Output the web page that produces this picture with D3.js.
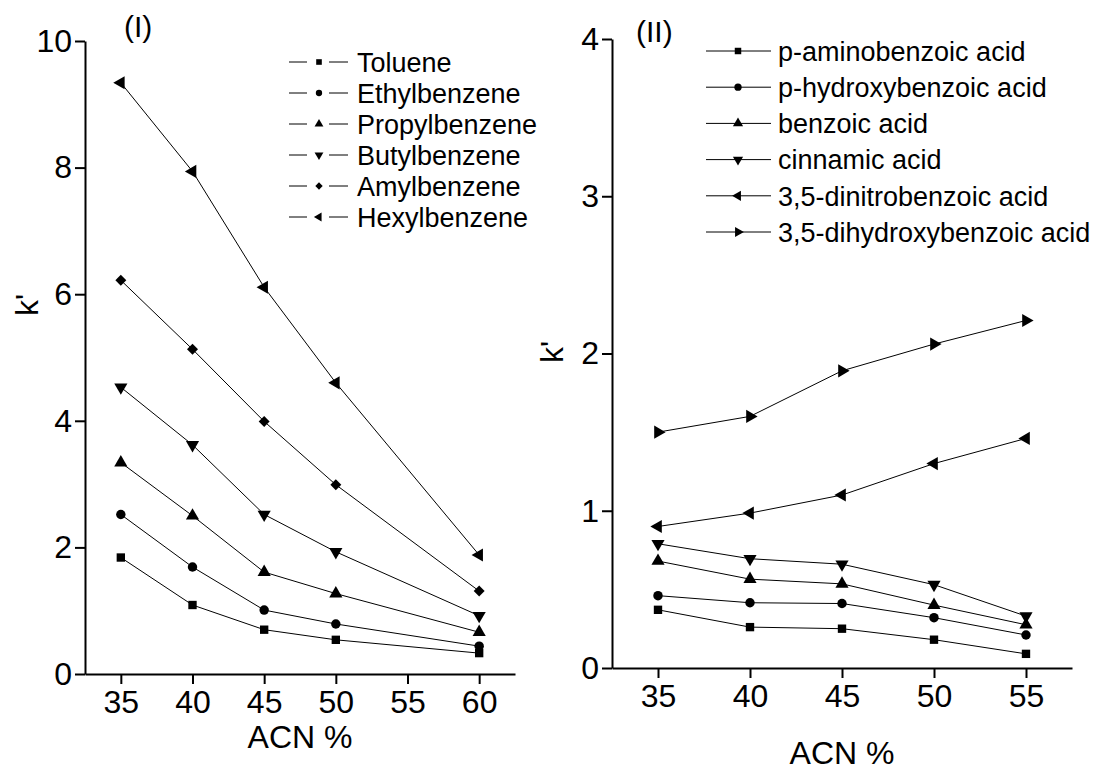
<!DOCTYPE html>
<html>
<head>
<meta charset="utf-8">
<script src="https://cdn.jsdelivr.net/npm/d3@7"></script>
<style>
	body { margin: 0; background: #fff; }
	svg { display: block; font-family: "Liberation Sans", Arial, sans-serif; }
	.axis .domain, .axis .tick line { stroke: #000; stroke-width: 2px; }
	.axis text { font-size: 32px; fill: #000; }
	.series { fill: none; stroke: #000; stroke-width: 1px; }
</style>
</head>
<body>
<div id="chart"></div>
<script>
"use strict";

//  Panel (I): alkylbenzenes
const acnLeft = [35, 40, 45, 50, 60];
const namesLeft = ['Toluene', 'Ethylbenzene', 'Propylbenzene', 'Butylbenzene', 'Amylbenzene', 'Hexylbenzene'];
const toluene = [1.84, 1.09, 0.70, 0.54, 0.33];
const ethylbenzene = [2.52, 1.69, 1.01, 0.79, 0.44];
const propylbenzene = [3.34, 2.50, 1.61, 1.27, 0.66];
const butylbenzene = [4.53, 3.62, 2.52, 1.93, 0.92];
const amylbenzene = [6.22, 5.13, 3.99, 2.99, 1.31];
const hexylbenzene = [9.34, 7.94, 6.11, 4.60, 1.88];
const ticksLeftX = [35, 40, 45, 50, 55, 60];
const ticksLeftY = [0, 2, 4, 6, 8, 10];

//  Panel (II): benzoic acids
const acnRight = [35, 40, 45, 50, 55];
const namesRight = ['p-aminobenzoic acid', 'p-hydroxybenzoic acid', 'benzoic acid', 'cinnamic acid', '3,5-dinitrobenzoic acid', '3,5-dihydroxybenzoic acid'];
const aminobenzoic = [0.37, 0.26, 0.25, 0.18, 0.09];
const hydroxybenzoic = [0.46, 0.415, 0.41, 0.32, 0.21];
const benzoic = [0.68, 0.565, 0.535, 0.40, 0.275];
const cinnamic = [0.79, 0.695, 0.66, 0.53, 0.33];
const dinitrobenzoic = [0.90, 0.985, 1.10, 1.30, 1.46];
const dihydroxybenzoic = [1.50, 1.60, 1.89, 2.06, 2.21];
const ticksRightX = [35, 40, 45, 50, 55];
const ticksRightY = [0, 1, 2, 3, 4];

const square = { type: d3.symbolSquare, size: 70, rotate: 0 };
const circle = { type: d3.symbolCircle, size: 70, rotate: 0 };
const triUp = { type: d3.symbolTriangle, size: 75, rotate: 0 };
const triDown = { type: d3.symbolTriangle, size: 75, rotate: 180 };
const triLeft = { type: d3.symbolTriangle, size: 75, rotate: -90 };
const triRight = { type: d3.symbolTriangle, size: 75, rotate: 90 };
const diamond = { type: d3.symbolSquare, size: 60, rotate: 45 };

const svg = d3.select('#chart').append('svg')
	.attr('width', 1095)
	.attr('height', 770);

function drawPanel(opts)
{
	let x = d3.scaleLinear().domain(opts.xDomain).range(opts.xRange);
	let y = d3.scaleLinear().domain(opts.yDomain).range(opts.yRange);
	let g = svg.append('g');

	let lineGen = d3.line()
		.x((v, i) => x(opts.acn[i]))
		.y(v => y(v));

	opts.series.forEach((values, s) => {
		let shape = opts.shapes[s];
		g.append('path')
			.attr('class', 'series')
			.attr('d', lineGen(values));

		g.selectAll(null)
			.data(values)
			.join('path')
			.attr('d', d3.symbol().type(shape.type).size(shape.size))
			.attr('transform', (v, i) => `translate(${x(opts.acn[i])},${y(v)}) rotate(${shape.rotate})`)
			.attr('fill', '#000');
	});

	g.append('g')
		.attr('class', 'axis')
		.attr('transform', `translate(0,${opts.yRange[0]})`)
		.call(d3.axisBottom(x).tickValues(opts.xTicks).tickFormat(d3.format('d')).tickSize(10).tickSizeOuter(0).tickPadding(6));

	g.append('g')
		.attr('class', 'axis')
		.attr('transform', `translate(${opts.xRange[0]},0)`)
		.call(d3.axisLeft(y).tickValues(opts.yTicks).tickFormat(d3.format('d')).tickSize(10).tickSizeOuter(0).tickPadding(3));

	g.append('text')
		.attr('x', (opts.xRange[0] + opts.xRange[1]) / 2)
		.attr('y', opts.xTitleY)
		.attr('text-anchor', 'middle')
		.style('font-size', '32px')
		.text('ACN %');

	g.append('text')
		.attr('transform', `translate(${opts.yTitleX},${opts.yTitleY}) rotate(-90)`)
		.attr('text-anchor', 'middle')
		.style('font-size', '32px')
		.text("k'");

	g.append('text')
		.attr('x', opts.tag[1])
		.attr('y', opts.tag[2])
		.style('font-size', '30px')
		.text(opts.tag[0]);

	//  Legend
	let leg = g.selectAll('.legend')
		.data(opts.names)
		.join('g')
		.attr('transform', (n, i) => `translate(${opts.legend.x},${opts.legend.y + i * opts.legend.step})`);

	opts.legend.segments.forEach(seg => {
		leg.append('line')
			.attr('x1', seg[0]).attr('x2', seg[1])
			.attr('stroke', '#000').attr('stroke-width', 1);
	});

	leg.append('path')
		.attr('d', (n, i) => d3.symbol().type(opts.shapes[i].type).size(opts.shapes[i].size * opts.legend.symbolScale)())
		.attr('transform', (n, i) => `translate(${opts.legend.symbolX},0) rotate(${opts.shapes[i].rotate})`)
		.attr('fill', '#000');

	leg.append('text')
		.attr('x', opts.legend.textX)
		.attr('dy', '0.36em')
		.style('font-size', '27px')
		.text(n => n);
}

drawPanel({
	acn: acnLeft,
	series: [toluene, ethylbenzene, propylbenzene, butylbenzene, amylbenzene, hexylbenzene],
	shapes: [square, circle, triUp, triDown, diamond, triLeft],
	names: namesLeft,
	xDomain: [32.5, 62.5], xRange: [85, 515],
	yDomain: [0, 10], yRange: [674, 41],
	xTicks: ticksLeftX, yTicks: ticksLeftY,
	xTitleY: 748, yTitleX: 38, yTitleY: 305,
	tag: ['(I)', 124, 37],
	legend: { x: 289, y: 62, step: 31, segments: [[0, 18], [40, 59]], symbolX: 30, symbolScale: 0.45, textX: 68 },
});

drawPanel({
	acn: acnRight,
	series: [aminobenzoic, hydroxybenzoic, benzoic, cinnamic, dinitrobenzoic, dihydroxybenzoic],
	shapes: [square, circle, triUp, triDown, triLeft, triRight],
	names: namesRight,
	xDomain: [32.5, 57.5], xRange: [612, 1072],
	yDomain: [0, 4], yRange: [668, 39],
	xTicks: ticksRightX, yTicks: ticksRightY,
	xTitleY: 764, yTitleX: 563, yTitleY: 352,
	tag: ['(II)', 636, 42],
	legend: { x: 706, y: 51, step: 36.2, segments: [[0, 65]], symbolX: 32, symbolScale: 0.6, textX: 72 },
});
</script>
</body>
</html>
